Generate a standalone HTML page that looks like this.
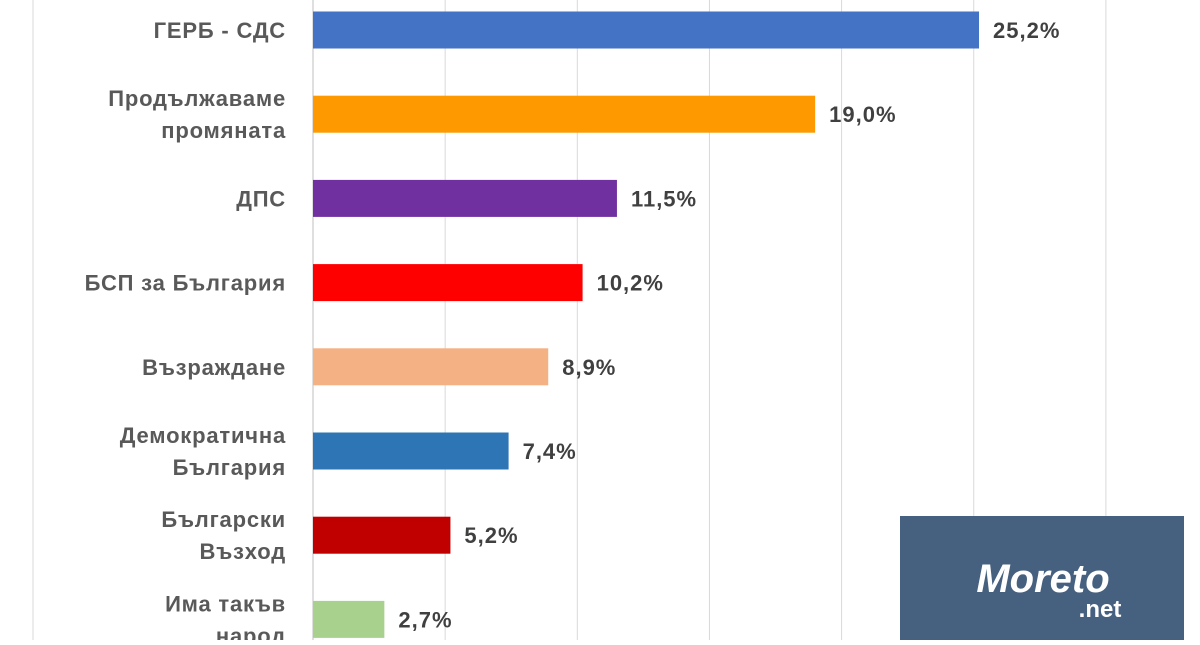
<!DOCTYPE html>
<html><head><meta charset="utf-8"><style>
body{margin:0;background:#fff;width:1200px;height:640px;overflow:hidden;font-family:"Liberation Sans","DejaVu Sans",sans-serif}
svg text{font-family:"Liberation Sans","DejaVu Sans",sans-serif;font-weight:bold}
</style></head><body>
<svg id="chart" width="1200" height="640">
<line x1="33" y1="0" x2="33" y2="640" stroke="#d9d9d9" stroke-width="1"/>
<g id="grid"></g><g id="bars"></g>
<g>
<rect x="900" y="516" width="284" height="124" fill="#46607f"/>
<text x="1043" y="592" font-size="40" fill="#fff" text-anchor="middle" font-style="italic">Moreto</text>
<text x="1100" y="617" font-size="24" fill="#fff" text-anchor="middle">.net</text>
</g>
</svg>
<script>
const categories=[["ГЕРБ - СДС"],["Продължаваме","промяната"],["ДПС"],["БСП за България"],["Възраждане"],["Демократична","България"],["Български","Възход"],["Има такъв","народ"]];
const values=[25.2,19.0,11.5,10.2,8.9,7.4,5.2,2.7];
const colors=["#4472c4","#ff9900","#7030a0","#ff0000","#f4b183","#2e75b6","#c00000","#a9d18e"];
const gridTicks=[0,5,10,15,20,25,30];
const ns="http://www.w3.org/2000/svg";
const x0=313,pxPer=26.43,y0=30,step=84.2,bh=37;
const xs=v=>x0+v*pxPer, ys=i=>y0+i*step;
function mk(t,a){const e=document.createElementNS(ns,t);for(const k in a)e.setAttribute(k,a[k]);return e;}
const g=document.getElementById('grid'),b=document.getElementById('bars');
gridTicks.forEach(t=>{const l=mk('line',{x1:xs(t),x2:xs(t),y1:0,y2:640,stroke:t===0?'#bfbfbf':'#d9d9d9','stroke-width':1});

g.appendChild(l);});
values.forEach((v,i)=>{const cy=ys(i);
const r=mk('rect',{x:x0,y:cy-bh/2,width:xs(v)-x0,height:bh,fill:colors[i]});

b.appendChild(r);
const vt=mk('text',{x:xs(v)+14,y:cy+8,'font-size':22,'letter-spacing':1,fill:'#404040'});vt.textContent=v.toFixed(1).replace('.',',')+'%';

b.appendChild(vt);
const lines=categories[i];
lines.forEach((s,j)=>{const t=mk('text',{x:286,y:cy+8+(j-(lines.length-1)/2)*32,'font-size':22,'letter-spacing':0.8,fill:'#595959','text-anchor':'end'});t.textContent=s;

b.appendChild(t);});
});
</script>
</body></html>
